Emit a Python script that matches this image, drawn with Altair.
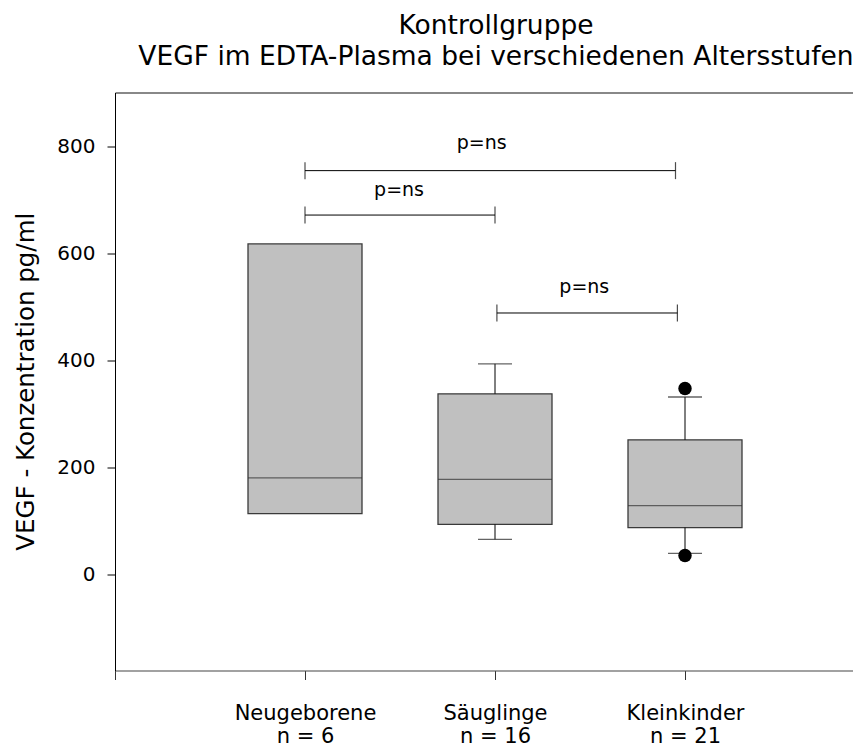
import altair as alt
import pandas as pd

# ---- data ----
categories = ["Neugeborene", "Säuglinge", "Kleinkinder"]
n_counts = [6, 16, 21]
positions = [1, 2, 3]
q1 = [113, 93, 87]
medians = [180, 177, 128]
q3 = [617, 337, 251]
whisker_low = [None, 65, 39]
whisker_high = [None, 393, 331]

outlier_pos = [3, 3]
outlier_values = [347, 35]

bracket_start = [1.0, 1.0, 2.01]
bracket_end = [2.95, 2.0, 2.96]
bracket_level = [754, 671, 488]
bracket_text = ["p=ns", "p=ns", "p=ns"]
bracket_text_x = [1.93, 1.495, 2.47]
bracket_text_y = [794, 706, 526]

y_ticks = [0, 200, 400, 600, 800]
x_ticks = [0, 1, 2, 3]

FONT = "DejaVu Sans"

boxes = pd.DataFrame({
    "group": categories, "pos": positions, "q1": q1, "median": medians,
    "q3": q3, "lo": whisker_low, "hi": whisker_high,
})
whiskers = boxes.dropna(subset=["lo", "hi"])
outliers = pd.DataFrame({"pos": outlier_pos, "value": outlier_values})
brackets = pd.DataFrame({"start": bracket_start, "end": bracket_end, "level": bracket_level})
bracket_ends = pd.DataFrame({"x": bracket_start + bracket_end, "level": bracket_level + bracket_level})
bracket_labels = pd.DataFrame({"x": bracket_text_x, "y": bracket_text_y, "text": bracket_text})

W, H = 738, 578
x_scale = alt.Scale(domain=[0, W / 190.0], nice=False, zero=False, padding=0)
y_scale = alt.Scale(domain=[-180, 900], nice=False, zero=False, padding=0)

# two-line category labels built from the arrays
parts = []
for p, c, n in zip(positions, categories, n_counts):
    parts.append(f"datum.value == {p} ? ['{c}', 'n = {n}']")
label_expr = " : ".join(parts) + " : ''"

x_axis_bottom = alt.Axis(
    values=x_ticks, labelExpr=label_expr, tickSize=9, tickColor="#333333",
    domainColor="#555555", labelFont=FONT, labelFontSize=21, labelColor="black",
    labelPadding=23, labelLineHeight=23, labelBaseline="top", grid=False,
    title=None, labelAngle=0,
)
x_axis_top = alt.Axis(orient="top", labels=False, ticks=False, domain=True,
                      domainColor="#222222", grid=False, title=None)

y_axis = alt.Axis(
    values=y_ticks, tickSize=8, tickColor="black", domainColor="black",
    labelFont=FONT, labelFontSize=20, labelColor="black", labelPadding=12,
    grid=False, title="VEGF - Konzentration pg/ml", titleFont=FONT,
    titleFontSize=24.5, titleFontWeight="normal", titleColor="black",
    titleAngle=270, titleX=-82, titleY=288.7, titleAlign="center",
    titleBaseline="alphabetic",
)

def X(field, axis=None):
    return alt.X(field, type="quantitative", scale=x_scale, axis=axis)

def Y(field, axis=None):
    return alt.Y(field, type="quantitative", scale=y_scale, axis=axis)

box = alt.Chart(boxes).mark_bar(
    size=114, color="#c0c0c0", stroke="#3a3a3a", strokeWidth=1.3
).encode(x=X("pos", x_axis_bottom), y=Y("q1", y_axis), y2="q3")

median = alt.Chart(boxes).mark_tick(
    orient="horizontal", size=114, thickness=1.3, color="#333333"
).encode(x=X("pos"), y=Y("median", y_axis))

upper = alt.Chart(whiskers).mark_rule(color="black", strokeWidth=1).encode(
    x=X("pos"), y=Y("q3", y_axis), y2="hi")
lower = alt.Chart(whiskers).mark_rule(color="black", strokeWidth=1).encode(
    x=X("pos"), y=Y("lo", y_axis), y2="q1")
cap_hi = alt.Chart(whiskers).mark_tick(
    orient="horizontal", size=34, thickness=1.3, color="#222222"
).encode(x=X("pos"), y=Y("hi", y_axis))
cap_lo = alt.Chart(whiskers).mark_tick(
    orient="horizontal", size=34, thickness=1.3, color="#222222"
).encode(x=X("pos"), y=Y("lo", y_axis))

dots = alt.Chart(outliers).mark_circle(size=180, color="black", opacity=1).encode(
    x=X("pos"), y=Y("value", y_axis))

bracket_lines = alt.Chart(brackets).mark_rule(color="black", strokeWidth=1).encode(
    x=X("start"), x2="end", y=Y("level", y_axis))
bracket_ticks = alt.Chart(bracket_ends).mark_tick(
    orient="vertical", size=17, thickness=1.2, color="black"
).encode(x=X("x"), y=Y("level", y_axis))

labels = alt.Chart(bracket_labels).mark_text(
    font=FONT, fontSize=19, color="black", align="center", baseline="alphabetic"
).encode(x=X("x", x_axis_top), y=Y("y", y_axis), text="text")

chart = alt.layer(
    box, median, upper, lower, cap_hi, cap_lo, dots,
    bracket_lines, bracket_ticks, labels,
).resolve_axis(x="independent").properties(
    width=W, height=H,
    autosize=alt.AutoSizeParams(type="none"),
    padding={"left": 107, "top": 84.5, "right": 0, "bottom": 77.5},
    title=alt.TitleParams(
        text=["Kontrollgruppe", "VEGF im EDTA-Plasma bei verschiedenen Altersstufen"],
        font=FONT, fontSize=26.5, fontWeight="normal", color="black",
        anchor="middle", lineHeight=31, dx=12, dy=28, baseline="alphabetic", offset=29,
    ),
).configure_view(stroke=None).configure(background="white")

chart.save("out.html", embed_options={"renderer": "svg", "actions": False})
